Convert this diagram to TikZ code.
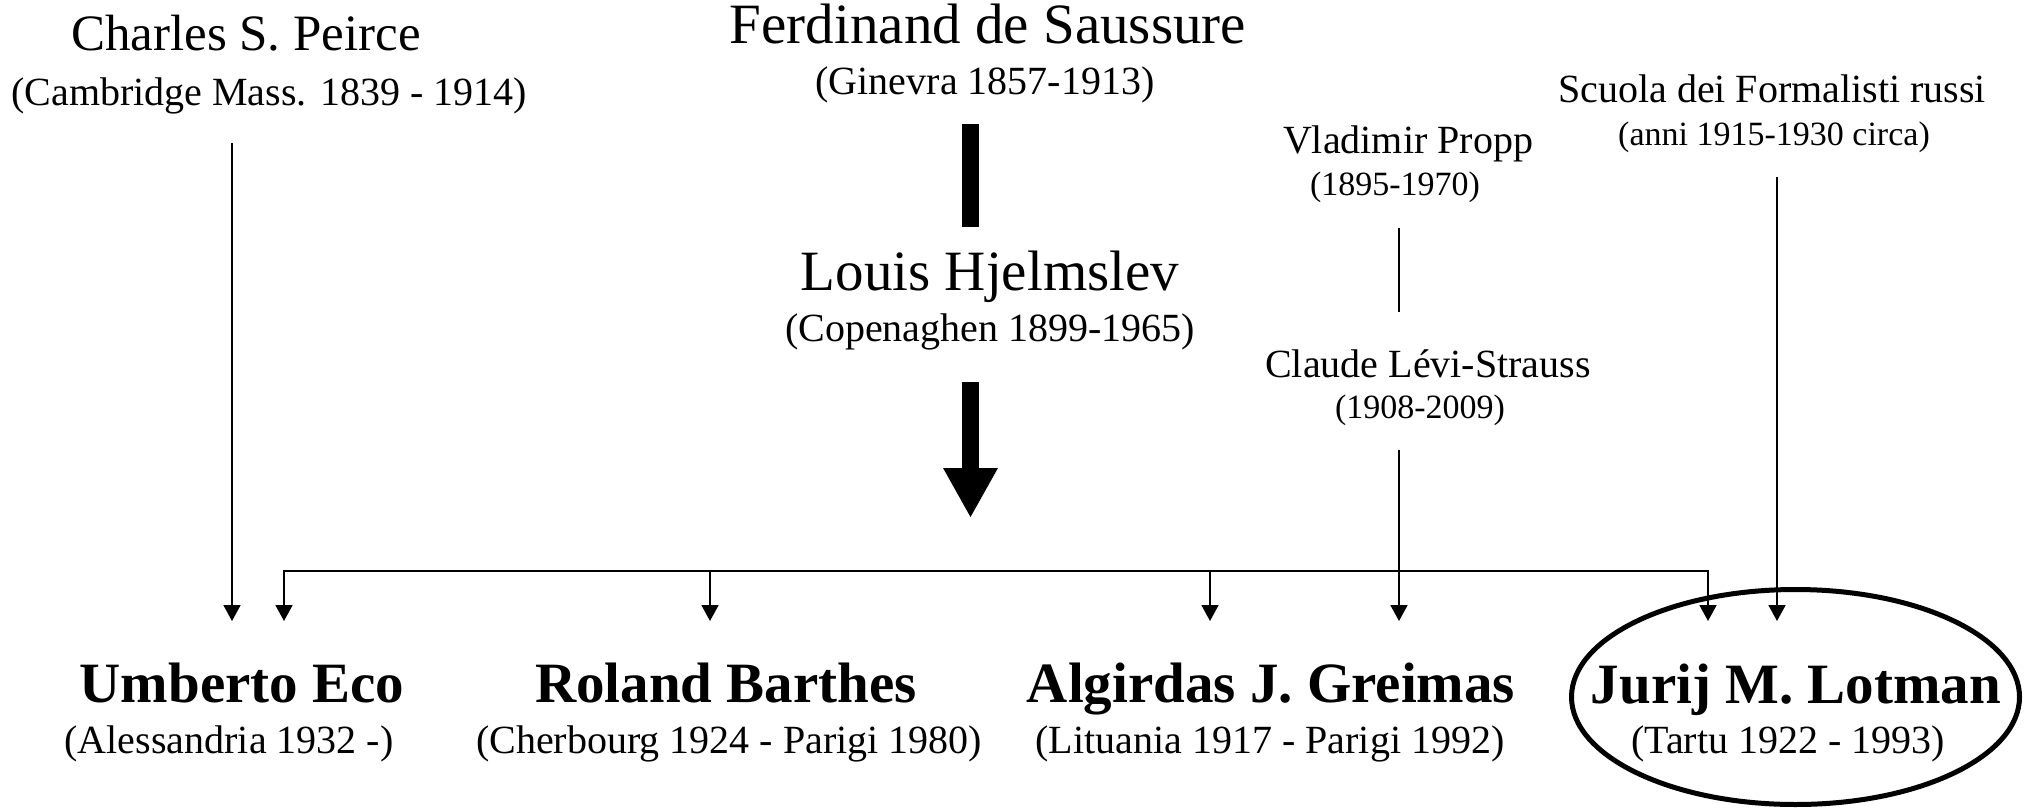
\documentclass[tikz,border=0pt]{standalone}
\usepackage{fontspec}
\setmainfont{Liberation Serif}
\usetikzlibrary{arrows.meta,shapes.geometric}

\begin{document}
\begin{tikzpicture}[x=1pt,y=-1pt,
  big/.style={font=\fontsize{57}{60}\selectfont,anchor=base,inner sep=0pt},
  peirce/.style={font=\fontsize{51}{55}\selectfont,anchor=base,inner sep=0pt},
  mid/.style={font=\fontsize{40}{44}\selectfont,anchor=base,inner sep=0pt},
  small/.style={font=\fontsize{34}{38}\selectfont,anchor=base,inner sep=0pt},
  heir/.style={font=\bfseries\fontsize{57}{60}\selectfont,anchor=base,inner sep=0pt},
  link/.style={line width=1.8pt},
  arr/.style={line width=1.8pt,-{Triangle[width=17pt,length=16pt]}},
  thick arr/.style={line width=17pt,-{Triangle[width=51pt,length=50pt]}}]
\useasboundingbox (0,0) rectangle (2032,811);

\node[peirce] (1) at (246,50) {Charles S. Peirce};
\node[mid] (2) at (269,105) {(Cambridge Mass. 1839 - 1914)};

\node[big] (3) at (988,43) {Ferdinand de Saussure};
\node[mid] (4) at (985,94) {(Ginevra 1857-1913)};
\node[big] (5) at (990,290) {Louis Hjelmslev};
\node[mid] (6) at (990,341) {(Copenaghen 1899-1965)};

\node[mid] (7) at (1408,153) {Vladimir Propp};
\node[small] (8) at (1395,195) {(1895-1970)};
\node[mid] (9) at (1428,377) {Claude Lévi-Strauss};
\node[small] (10) at (1420,418) {(1908-2009)};

\node[mid] (11) at (1772,102) {Scuola dei Formalisti russi};
\node[small] (12) at (1774,145) {(anni 1915-1930 circa)};

\node[heir] (13) at (242,702) {Umberto Eco};
\node[mid] (14) at (229,753) {(Alessandria 1932 -)};
\node[heir] (15) at (726,702) {Roland Barthes};
\node[mid] (16) at (729,753) {(Cherbourg 1924 - Parigi 1980)};
\node[heir] (17) at (1271,702) {Algirdas J. Greimas};
\node[mid] (18) at (1270,753) {(Lituania 1917 - Parigi 1992)};
\node[heir] (19) at (1796,703) {Jurij M. Lotman};
\node[mid] (20) at (1788,753) {(Tartu 1922 - 1993)};
\node[draw,ellipse,line width=5pt,minimum width=448pt,minimum height=215pt] (21) at (1795.5,697) {};

\coordinate (30) at (970.5,124);
\coordinate (31) at (970.5,227);
\coordinate (32) at (970.5,382);
\coordinate (33) at (970.5,518);

\coordinate (40) at (232,143);
\coordinate (41) at (232,621);
\coordinate (42) at (284,621);
\coordinate (43) at (710,621);
\coordinate (44) at (1210,621);
\coordinate (45) at (1708,621);
\coordinate (46) at (996,571);

\coordinate (50) at (1399,228);
\coordinate (51) at (1399,312);
\coordinate (52) at (1399,450);
\coordinate (53) at (1399,621);
\coordinate (54) at (1777,177);
\coordinate (55) at (1777,621);

\draw[line width=17pt] (30)--(31);
\draw[thick arr] (32)--(33);

\draw[arr] (40)--(41);
\draw[link,{Triangle[width=17pt,length=16pt]}-{Triangle[width=17pt,length=16pt]}] (42)--(42 |- 46)--(45 |- 46)--(45);
\draw[arr] (43 |- 46)--(43);
\draw[arr] (44 |- 46)--(44);

\draw[link] (50)--(51);
\draw[arr] (52)--(53);
\draw[arr] (54)--(55);
\end{tikzpicture}
\end{document}
